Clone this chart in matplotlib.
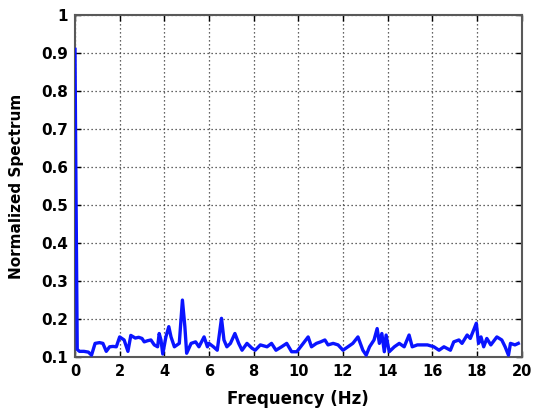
import matplotlib
matplotlib.use("Agg")
import matplotlib.pyplot as plt

freq_hz = [0.0, 0.03, 0.06, 0.1, 0.2, 0.4, 0.6, 0.74, 0.9, 1.1, 1.25, 1.4, 1.55, 1.7, 1.85,
           2.0, 2.2, 2.37, 2.5, 2.7, 2.85, 3.0, 3.1, 3.25, 3.4, 3.55, 3.7, 3.77, 3.85, 3.93,
           4.07, 4.2, 4.3, 4.45, 4.67, 4.81, 4.92, 5.0, 5.2, 5.4, 5.55, 5.78, 5.93, 6.0,
           6.2, 6.37, 6.56, 6.67, 6.8, 6.96, 7.16, 7.33, 7.48, 7.7, 7.93, 8.07, 8.3, 8.6,
           8.8, 9.0, 9.25, 9.48, 9.7, 9.93, 10.22, 10.44, 10.59, 10.81, 11.0, 11.19, 11.33,
           11.56, 11.78, 12.0, 12.22, 12.44, 12.67, 12.89, 13.04, 13.19, 13.39, 13.53,
           13.63, 13.74, 13.85, 13.93, 14.07, 14.3, 14.52, 14.74, 14.96, 15.1, 15.33,
           15.78, 16.07, 16.3, 16.52, 16.81, 16.96, 17.19, 17.33, 17.56, 17.7, 17.85,
           17.97, 18.07, 18.18, 18.3, 18.44, 18.62, 18.89, 19.11, 19.26, 19.41, 19.5,
           19.7, 19.85]
spectrum = [0.91, 0.65, 0.42, 0.12, 0.115, 0.115, 0.113, 0.105, 0.136, 0.138, 0.136, 0.115,
            0.127, 0.128, 0.127, 0.153, 0.145, 0.115, 0.157, 0.15, 0.152, 0.149, 0.14, 0.143,
            0.145, 0.132, 0.127, 0.162, 0.145, 0.108, 0.153, 0.18, 0.153, 0.127, 0.136,
            0.25, 0.18, 0.11, 0.136, 0.14, 0.127, 0.153, 0.127, 0.136, 0.127, 0.118, 0.202,
            0.145, 0.127, 0.136, 0.162, 0.136, 0.118, 0.136, 0.123, 0.118, 0.132, 0.127,
            0.136, 0.118, 0.127, 0.136, 0.114, 0.114, 0.136, 0.153, 0.127, 0.136, 0.14,
            0.145, 0.132, 0.136, 0.132, 0.118, 0.127, 0.136, 0.153, 0.118, 0.105, 0.127,
            0.145, 0.175, 0.136, 0.162, 0.114, 0.158, 0.114, 0.127, 0.136, 0.127, 0.158,
            0.127, 0.132, 0.132, 0.127, 0.118, 0.127, 0.118, 0.14, 0.145, 0.136, 0.158,
            0.149, 0.171, 0.189, 0.136, 0.153, 0.127, 0.149, 0.132, 0.153, 0.145, 0.127,
            0.105, 0.136, 0.132, 0.136]

x_ticks = [0, 2, 4, 6, 8, 10, 12, 14, 16, 18, 20]
y_ticks = [0.1, 0.2, 0.3, 0.4, 0.5, 0.6, 0.7, 0.8, 0.9, 1.0]
y_tick_labels = ["0.1", "0.2", "0.3", "0.4", "0.5", "0.6", "0.7", "0.8", "0.9", "1"]

plt.rcParams['font.family'] = ['DejaVu Sans']
fig = plt.figure(figsize=(5.33, 4.09), dpi=100)
ax = fig.add_axes([0.1407, 0.127, 0.838, 0.836])
ax.plot(freq_hz, spectrum, color='#0a14ff', lw=2.4, solid_joinstyle='round', zorder=3)
ax.set_xlim(0, 20)
ax.set_ylim(0.1, 1.0)
ax.set_xticks(x_ticks)
ax.set_xticklabels([str(t) for t in x_ticks], fontsize=10.5, fontweight='bold')
ax.set_yticks(y_ticks)
ax.set_yticklabels(y_tick_labels, fontsize=11, fontweight='bold')
ax.grid(True, color='0.2', linestyle=(0, (1, 2.2)), linewidth=0.9)
ax.tick_params(direction='in', top=True, right=True, length=4, width=1, pad=5)
for s in ax.spines.values():
    s.set_color('0.35')
    s.set_linewidth(1.5)
ax.set_xlabel('Frequency (Hz)', fontsize=12, fontweight='bold', labelpad=8)
ax.set_ylabel('Normalized Spectrum', fontsize=11, fontweight='bold', labelpad=12)
fig.savefig('out.png', dpi=100)
